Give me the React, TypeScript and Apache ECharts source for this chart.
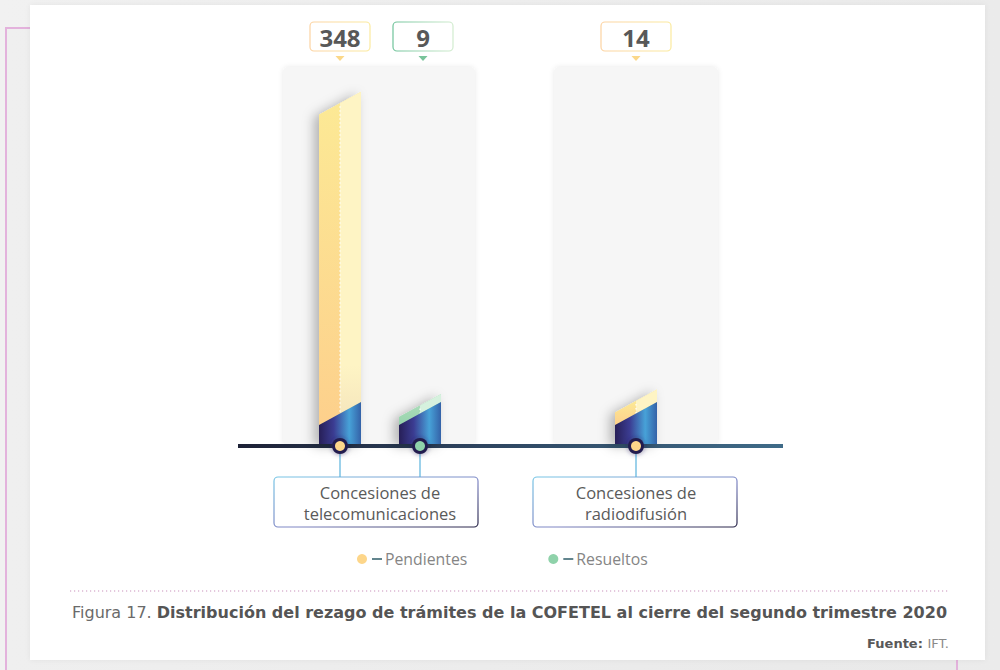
import React, { useEffect, useRef } from 'react';
import * as echarts from 'echarts';

const categories = ['Concesiones de\ntelecomunicaciones', 'Concesiones de\nradiodifusión'];
const seriesNames = ['Pendientes', 'Resueltos'];
const pendientes: (number | null)[] = [348, 14];
const resueltos: (number | null)[] = [9, null];
const yMax = 425;

const captionLead = 'Figura 17. ';
const captionTitle = 'Distribución del rezago de trámites de la COFETEL al cierre del segundo trimestre 2020';
const sourceLabel = 'Fuente: ';
const sourceText = 'IFT.';

const FONT = "'Open Sans', 'Noto Sans', sans-serif";
const CAP_FONT = "'DejaVu Sans', sans-serif";

const palette: any = {
  Pendientes: { light: '#fef4c4', lightB: '#f6e7bd', main: '#fce995', deep: '#fdd08c', b1: '#fcd3a2', b2: '#fbea9e', tri: '#fbd889', dot: '#fdd68a' },
  Resueltos: { light: '#d6f1de', lightB: '#c4e6cf', main: '#a9dcb8', deep: '#97d3ad', b1: '#6fc39a', b2: '#d2eccf', tri: '#78c49a', dot: '#8fd2aa' },
};

const allSeries = [pendientes, resueltos];

function presentIdx(cat: number) {
  return allSeries.map((s, k) => (s[cat] != null ? k : -1)).filter((k) => k >= 0);
}

function makeBarRender(seriesIdx: number) {
  const name = seriesNames[seriesIdx];
  const pal = palette[name];
  return (params: any, api: any) => {
    const cat = api.value(0);
    const v = api.value(1);
    const base = api.coord([cat, 0]);
    const top = api.coord([cat, v]);
    const present = presentIdx(cat);
    const k = present.indexOf(seriesIdx);
    const offset = present.length === 1 ? 0 : k === 0 ? -40 : 40;
    const cx = base[0] + offset;
    const y0 = base[1];
    const h = y0 - top[1];
    const w = 42;
    const xl = cx - w / 2;
    const xr = cx + w / 2;
    const xm = cx;
    const bl = 21;
    const s = 23;
    const gy = params.coordSys.y;
    const boxW = present.length === 1 ? 70 : 60;
    const boxShift = present.length === 1 ? 0 : k === 0 ? 0 : 3;
    const L = echarts.graphic.LinearGradient;
    return {
      type: 'group',
      children: [
        {
          type: 'polygon',
          shape: { points: [[xl, y0 - bl - h], [xr, y0 - bl - s - h], [xr, y0 - 2], [xl, y0 - 2]] },
          style: { fill: pal.main, shadowBlur: 12, shadowOffsetX: -5, shadowOffsetY: 2, shadowColor: 'rgba(0,0,0,0.28)' },
        },
        {
          type: 'polygon',
          shape: { points: [[xl, y0 - bl - h], [xm, y0 - bl - s / 2 - h], [xm, y0 - bl - s / 2], [xl, y0 - bl]] },
          style: { fill: new L(0, 0, 0, 1, [{ offset: 0, color: pal.main }, { offset: 1, color: pal.deep }]) },
        },
        {
          type: 'polygon',
          shape: { points: [[xm, y0 - bl - s / 2 - h], [xr, y0 - bl - s - h], [xr, y0 - bl - s], [xm, y0 - bl - s / 2]] },
          style: { fill: new L(0, 0, 0, 1, [{ offset: 0, color: pal.light }, { offset: 0.85, color: pal.light }, { offset: 1, color: pal.lightB }]) },
        },
        {
          type: 'line',
          shape: { x1: xm, y1: y0 - bl - s / 2 - h + 3, x2: xm, y2: y0 - bl - s / 2 },
          style: { stroke: 'rgba(255,255,255,0.95)', lineWidth: 1.2, lineDash: [1.5, 2.5] },
        },
        {
          type: 'polygon',
          shape: { points: [[xl, y0 - bl], [xr, y0 - bl - s], [xr, y0 - 2], [xl, y0 - 2]] },
          style: {
            fill: new L(0, 0, 1, 0, [
              { offset: 0, color: '#271f57' },
              { offset: 0.35, color: '#3b3c92' },
              { offset: 0.72, color: '#47a2d8' },
              { offset: 1, color: '#3462a8' },
            ]),
          },
        },
        {
          type: 'line',
          shape: { x1: cx, y1: y0, x2: cx, y2: y0 + 31 },
          style: { stroke: '#5ab3dd', lineWidth: 1.2 },
        },
        {
          type: 'circle',
          shape: { cx, cy: y0, r: 8 },
          style: { fill: '#241f50', shadowBlur: 5, shadowColor: 'rgba(40,30,90,0.55)' },
        },
        { type: 'circle', shape: { cx, cy: y0, r: 5 }, style: { fill: pal.dot } },
        {
          type: 'rect',
          shape: { x: cx + boxShift - boxW / 2, y: gy - 45, width: boxW, height: 29, r: 4 },
          style: {
            fill: '#ffffff',
            stroke: new L(0, 0, 1, 0, [{ offset: 0, color: pal.b1 }, { offset: 1, color: pal.b2 }]),
            lineWidth: 1.2,
          },
        },
        {
          type: 'text',
          style: {
            x: cx + boxShift,
            y: gy - 30,
            text: String(v),
            align: 'center',
            verticalAlign: 'middle',
            fill: '#585858',
            font: `bold 24px ${FONT}`,
          },
        },
        {
          type: 'polygon',
          shape: { points: [[cx + boxShift - 4.5, gy - 11], [cx + boxShift + 4.5, gy - 11], [cx + boxShift, gy - 6]] },
          style: { fill: pal.tri },
        },
      ],
    };
  };
}

function renderPanel(params: any, api: any) {
  const cat = api.value(0);
  const base = api.coord([cat, 0]);
  const cx = base[0];
  const y0 = base[1];
  const gy = params.coordSys.y;
  const n = presentIdx(cat).length;
  const half = n === 1 ? 82 : 96;
  const L = echarts.graphic.LinearGradient;
  return {
    type: 'group',
    children: [
      {
        type: 'rect',
        shape: { x: cx - half - (n === 1 ? 0 : 1), y: gy, width: half * 2, height: y0 - gy, r: 5 },
        style: { fill: '#f6f6f6', shadowBlur: 5, shadowColor: 'rgba(0,0,0,0.09)' },
      },
      {
        type: 'rect',
        shape: { x: cx - (n === 1 ? 103 : 106), y: y0 + 31, width: 204, height: 50, r: 4 },
        style: {
          fill: 'none',
          stroke: new L(0, 0, 1, 1, [
            { offset: 0, color: '#78c6e6' },
            { offset: 0.55, color: '#7f86c4' },
            { offset: 1, color: '#272346' },
          ]),
          lineWidth: 1.2,
        },
      },
    ],
  };
}

export default function App() {
  const ref = useRef<HTMLDivElement>(null);
  useEffect(() => {
    if (!ref.current) return;
    const chart = echarts.init(ref.current, undefined, { renderer: 'svg' });
    const option: any = {
      animation: false,
      backgroundColor: 'transparent',
      title: [
        {
          left: 67,
          top: 599,
          text: `{a|${captionLead}}{b|${captionTitle}}`,
          textStyle: {
            fontWeight: 'normal',
            rich: {
              a: { fontFamily: CAP_FONT, fontSize: 16, fontWeight: 'normal', color: '#6a6a6a' },
              b: { fontFamily: CAP_FONT, fontSize: 16, fontWeight: 'bold', color: '#555555' },
            },
          },
        },
        {
          right: 46,
          top: 632,
          text: `{a|${sourceLabel}}{b|${sourceText}}`,
          textStyle: {
            fontWeight: 'normal',
            rich: {
              a: { fontFamily: CAP_FONT, fontSize: 13, fontWeight: 'bold', color: '#585858' },
              b: { fontFamily: CAP_FONT, fontSize: 13, fontWeight: 'normal', color: '#8a8a8a' },
            },
          },
        },
      ],
      legend: {
        left: 357,
        top: 551,
        padding: 0,
        itemGap: 81,
        itemWidth: 10,
        itemHeight: 10,
        icon: 'circle',
        data: seriesNames,
        formatter: (nm: string) => `{l|}{t|${nm}}`,
        textStyle: {
          rich: {
            l: { width: 10, height: 1.5, backgroundColor: '#2e5d68' },
            t: { fontFamily: FONT, fontSize: 15.8, color: '#858585', padding: [0, 0, 0, 3] },
          },
        },
      },
      grid: { left: 252, right: 236, top: 67, bottom: 224 },
      xAxis: {
        type: 'category',
        data: categories,
        axisLine: { show: false },
        axisTick: { show: false },
        axisLabel: { margin: 36, fontFamily: FONT, fontSize: 16.5, lineHeight: 21, color: '#5a5a5a' },
      },
      yAxis: { type: 'value', min: 0, max: yMax, show: false },
      graphic: {
        elements: [
          {
            type: 'rect',
            z: 3,
            shape: { x: 238, y: 444, width: 545, height: 4 },
            style: {
              fill: new echarts.graphic.LinearGradient(0, 0, 1, 0, [
                { offset: 0, color: '#1d2136' },
                { offset: 0.45, color: '#2e4560' },
                { offset: 1, color: '#3f6b88' },
              ]),
            },
          },
          {
            type: 'line',
            z: 3,
            shape: { x1: 70, y1: 591, x2: 948, y2: 591 },
            style: { stroke: '#dcb6d2', lineWidth: 1.5, lineDash: [1.2, 2.8] },
          },
        ],
      },
      series: [
        {
          type: 'custom',
          name: 'panels',
          z: 1,
          silent: true,
          renderItem: renderPanel,
          data: categories.map((_, i) => [i, yMax]),
        },
        ...seriesNames.map((nm, si) => ({
          type: 'custom',
          name: nm,
          z: 5,
          itemStyle: { color: palette[nm].dot },
          renderItem: makeBarRender(si),
          data: allSeries[si].map((v, i) => (v != null ? [i, v] : null)).filter((d) => d != null),
        })),
      ],
    };
    chart.setOption(option);
    return () => chart.dispose();
  }, []);

  return (
    <div style={{ position: 'fixed', left: 0, top: 0, width: 1000, height: 670, overflow: 'hidden', background: 'linear-gradient(90deg,#f1f1f1,#ebebeb)' }}>
      <div
        style={{
          position: 'absolute',
          left: 5,
          top: 27,
          width: 953,
          height: 700,
          borderLeft: '2px solid #e3b2dc',
          borderTop: '2px solid #e3b2dc',
          borderRight: '2px solid #e3b2dc',
          background: 'linear-gradient(90deg,#efefef,#e9e9e9)',
          boxSizing: 'border-box',
        }}
      />
      <div
        style={{
          position: 'absolute',
          left: 30,
          top: 5,
          width: 955,
          height: 655,
          background: '#ffffff',
          boxShadow: '0 0 6px rgba(0,0,0,0.06)',
        }}
      />
      <div ref={ref} style={{ position: 'absolute', left: 0, top: 0, width: 1000, height: 670 }} />
    </div>
  );
}
